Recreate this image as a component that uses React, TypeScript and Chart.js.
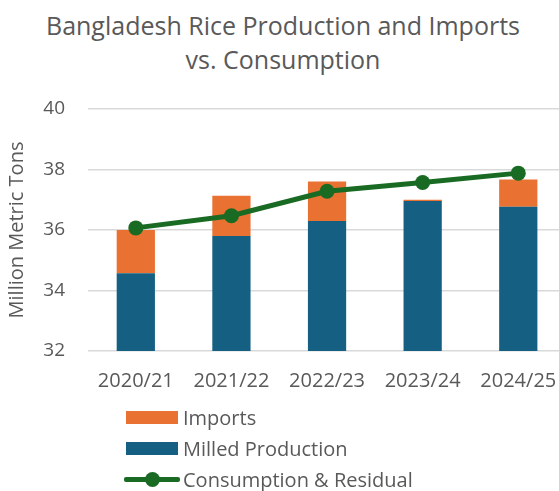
import React, { useEffect, useRef } from 'react';
import { Chart, registerables } from 'chart.js';

Chart.register(...registerables);

const categories = ['2020/21', '2021/22', '2022/23', '2023/24', '2024/25'];
const milledProduction = [34.57, 35.8, 36.3, 36.96, 36.77];
const imports = [1.43, 1.33, 1.3, 0.04, 0.9];
const consumption = [36.07, 36.47, 37.28, 37.57, 37.88];
const yTicks = [32, 34, 36, 38, 40];

const FONT = '"Open Sans", sans-serif';
const GREY = '#595959';
const BLUE = '#156082';
const ORANGE = '#E97132';
const GREEN = '#196B24';

export default function App() {
  const ref = useRef<HTMLCanvasElement>(null);

  useEffect(() => {
    const chart = new Chart(ref.current!, {
      type: 'bar',
      data: {
        labels: categories,
        datasets: [
          {
            type: 'bar',
            label: 'Milled Production',
            data: milledProduction,
            backgroundColor: BLUE,
            stack: 'supply',
            order: 1,
            categoryPercentage: 1,
            barPercentage: 0.4,
          },
          {
            type: 'bar',
            label: 'Imports',
            data: imports,
            backgroundColor: ORANGE,
            stack: 'supply',
            order: 1,
            categoryPercentage: 1,
            barPercentage: 0.4,
          },
          {
            type: 'line',
            label: 'Consumption & Residual',
            data: consumption,
            borderColor: GREEN,
            backgroundColor: GREEN,
            borderWidth: 5,
            pointRadius: 7.5,
            pointBackgroundColor: GREEN,
            pointBorderWidth: 0,
            stack: 'use',
            order: 0,
          } as any,
        ],
      },
      options: {
        responsive: false,
        animation: false,
        layout: { padding: { top: 109, bottom: 100, left: 0, right: 0 } },
        plugins: {
          legend: { display: false },
          tooltip: { enabled: false },
          title: { display: false },
        },
        scales: {
          x: {
            stacked: true,
            grid: { display: false, drawTicks: false },
            border: { display: false },
            ticks: { color: GREY, font: { family: FONT, size: 20 }, padding: 18 },
            afterFit: (s: any) => {
              s.height = 40;
            },
          },
          y: {
            stacked: true,
            min: 32,
            max: 40,
            afterBuildTicks: (s: any) => {
              s.ticks = yTicks.map((v) => ({ value: v }));
            },
            grid: { color: '#D9D9D9', lineWidth: 1.5, drawTicks: false },
            border: { display: false },
            ticks: { color: GREY, font: { family: FONT, size: 19 }, padding: 23 },
            title: {
              display: true,
              text: 'Million Metric Tons',
              color: GREY,
              font: { family: FONT, size: 20 },
              padding: { top: 5, bottom: 0 },
            },
            afterFit: (s: any) => {
              s.width = 88;
            },
          },
        },
      },
    });
    return () => chart.destroy();
  }, []);

  const textStyle: React.CSSProperties = {
    fontFamily: FONT,
    fontSize: 20,
    color: GREY,
    lineHeight: '31px',
    marginLeft: 5,
  };
  const row: React.CSSProperties = {
    display: 'flex',
    alignItems: 'center',
    height: 31,
  };

  return (
    <div
      style={{
        position: 'fixed',
        left: 0,
        top: 0,
        width: 559,
        height: 491,
        overflow: 'hidden',
        background: '#fff',
      }}
    >
      <div
        style={{
          position: 'absolute',
          left: 0,
          top: 8,
          width: 566,
          textAlign: 'center',
          fontFamily: FONT,
          fontSize: 25,
          lineHeight: '34px',
          color: GREY,
        }}
      >
        Bangladesh Rice Production and Imports
        <br />
        vs. Consumption
      </div>
      <canvas
        ref={ref}
        width={575}
        height={491}
        style={{ position: 'absolute', left: 0, top: 0, width: 575, height: 491, display: 'block' }}
      />
      <div style={{ position: 'absolute', left: 124, top: 402 }}>
        <div style={row}>
          <div style={{ width: 52, height: 13, background: ORANGE, marginLeft: 2 }} />
          <span style={textStyle}>Imports</span>
        </div>
        <div style={row}>
          <div style={{ width: 52, height: 13, background: BLUE, marginLeft: 2 }} />
          <span style={textStyle}>Milled Production</span>
        </div>
        <div style={row}>
          <div style={{ position: 'relative', width: 56, height: 15 }}>
            <div
              style={{
                position: 'absolute',
                left: 0,
                top: 5,
                width: 56,
                height: 5,
                background: GREEN,
                borderRadius: 2,
              }}
            />
            <div
              style={{
                position: 'absolute',
                left: 20.5,
                top: 0,
                width: 15,
                height: 15,
                borderRadius: '50%',
                background: GREEN,
              }}
            />
          </div>
          <span style={{ ...textStyle, marginLeft: 3 }}>Consumption &amp; Residual</span>
        </div>
      </div>
    </div>
  );
}
